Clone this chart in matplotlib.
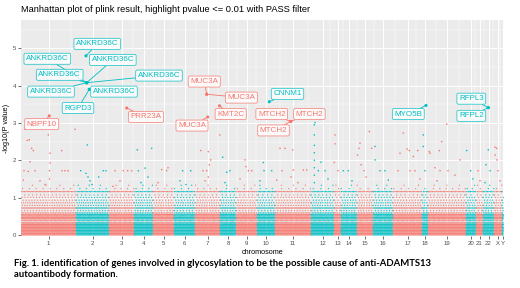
"""Manhattan plot of plink result with labelled hits (ggplot-like look)."""
import matplotlib; matplotlib.use("Agg")
import matplotlib.pyplot as plt
import numpy as np

plt.rcParams['font.family'] = ['Liberation Sans', 'DejaVu Sans']

RED, CYAN = "#F8766D", "#00BFC4"

# ---- data ----
chroms = [str(i) for i in range(1, 23)] + ["X", "Y"]
# width of each chromosome on the x axis (variant index, arbitrary units)
chr_size = [55, 33, 25, 19, 21, 21, 25, 16, 21, 18, 36, 23, 7, 16, 16, 20, 29, 6, 38, 10, 7, 11, 8, 1.5]

# dense background: observed -log10(P) levels and how many variants per x unit sit there
band_logp = [0.00, 0.04, 0.08, 0.12, 0.16, 0.20, 0.24, 0.28, 0.32, 0.38, 0.43, 0.47, 0.51,
             0.55, 0.59, 0.65, 0.72, 0.79, 0.86, 0.93, 1.00, 1.07, 1.16, 1.24, 1.33]
band_density = [1.2, 1.3, 1.4, 1.3, 1.4, 1.3, 1.4, 1.3, 1.2, 0.8, 1.2, 1.2, 1.1,
                1.0, 0.6, 0.35, 1.0, 0.4, 0.45, 0.35, 0.35, 0.25, 0.75, 0.15, 0.08]

# sparse variants above the band: chromosome, position within chromosome, -log10(P)
sp_chr = (["1"] * 22 + ["2"] * 9 + ["3"] * 6 + ["4"] * 6 + ["5"] * 4 + ["6"] * 4 + ["7"] * 9
          + ["8"] * 4 + ["9"] * 5 + ["10"] * 4 + ["11"] * 10 + ["12"] * 13 + ["13"] * 4
          + ["14"] * 3 + ["15"] * 8 + ["16"] * 5 + ["17"] * 10 + ["18"] * 3 + ["19"] * 11
          + ["20"] * 3 + ["21"] * 2 + ["22"] * 4 + ["X"] * 6)
sp_pos = [4, 6.3, 8.3, 10.7, 12.3, 9, 7.3, 2.3, 27.3, 29, 29, 28.5, 28.5, 40.7, 54, 41, 44, 47, 19, 24, 14, 3,
          11.3, 10, 12, 14, 4.7, 27.3, 30, 22.7, 16,
          6, 14.3, 18.7, 22.7, 11, 4,
          3.3, 17.7, 11, 4.3, 14, 7,
          8.7, 13.7, 15, 5,
          8.7, 16.7, 6, 12,
          5.7, 13.3, 15.7, 14.3, 11.7, 13.3, 10, 24.8, 8,
          2.7, 6.7, 10, 5,
          9, 10, 12.3, 4, 15.7,
          6.3, 7, 14.7, 3,
          5, 10, 17.7, 18.3, 28.3, 31.7, 7, 1.7, 16, 23,
          3.3, 3.3, 3.3, 3.3, 3.3, 3.3, 3.3, 3.3, 4, 7.3, 14, 10, 17,
          1, 1, 0.3, 4,
          2.3, 7.3, 11,
          0.5, 2, 3, 12.3, 14.7, 4, 7, 9,
          2, 2, 7, 15.3, 12,
          10.3, 7, 20.3, 14, 5, 16.3, 24.7, 17, 22, 27,
          1.3, 1.3, 3,
          2, 13.7, 18.7, 32, 1.3, 11.3, 7, 12, 20, 27, 9,
          4.7, 0.7, 7,
          2, 4,
          3, 5.3, 7, 2,
          1, 2.7, 3, 4, 6, 1]
sp_logp = [2.83, 2.53, 2.55, 2.32, 2.26, 1.96, 1.70, 1.47, 2.68, 2.19, 1.93, 1.72, 1.50, 2.26, 2.83, 1.72, 1.72, 1.72, 1.45, 1.35, 1.72, 1.72,
           2.41, 1.65, 1.55, 1.45, 1.72, 1.72, 1.72, 1.55, 1.35,
           1.72, 1.72, 1.72, 1.72, 1.45, 1.30,
           2.28, 2.32, 1.79, 1.72, 1.55, 1.40,
           1.75, 1.72, 1.80, 1.40,
           1.72, 1.72, 1.45, 1.35,
           2.26, 2.23, 2.01, 1.88, 1.72, 1.55, 1.45, 2.68, 1.72,
           2.08, 1.68, 1.72, 1.40,
           2.01, 1.83, 1.72, 1.50, 1.72,
           1.94, 1.72, 1.72, 1.45,
           2.32, 2.32, 2.28, 1.74, 1.74, 1.74, 1.72, 1.47, 1.55, 1.40,
           2.95, 2.68, 2.40, 2.20, 2.00, 1.80, 1.60, 1.40, 3.01, 1.72, 1.72, 1.95, 1.50,
           2.68, 2.44, 1.94, 1.72,
           1.72, 1.72, 1.45,
           2.14, 2.32, 2.46, 2.77, 2.32, 1.88, 1.72, 1.55,
           2.37, 2.01, 1.72, 1.47, 1.72,
           2.73, 2.19, 2.10, 2.30, 1.72, 2.26, 2.26, 1.72, 1.72, 1.50,
           2.68, 2.37, 1.72,
           2.19, 2.50, 2.97, 2.01, 2.23, 2.26, 1.80, 1.72, 1.72, 1.60, 1.45,
           1.72, 2.26, 1.50,
           1.72, 1.45,
           1.88, 2.28, 1.72, 1.40,
           2.14, 2.32, 2.01, 1.72, 1.45, 2.35]

# labelled hits (p <= 0.01, PASS)
hit_gene = ["NBPF10", "ANKRD36C", "ANKRD36C", "ANKRD36C", "ANKRD36C", "ANKRD36C", "ANKRD36C",
            "ANKRD36C", "RGPD3", "PRR23A", "MUC3A", "MUC3A", "KMT2C", "MUC3A", "CNNM1",
            "MTCH2", "MTCH2", "MTCH2", "MYO5B", "RFPL3", "RFPL2"]
hit_chr = ["1", "2", "2", "2", "2", "2", "2", "2", "2", "3", "7", "7", "7", "7", "10",
           "11", "11", "11", "18", "22", "22"]
hit_pos = [28.3, 10.0, 10.7, 10.7, 10.7, 10.7, 10.7, 13.3, 13.3, 17.7, 11.7, 11.7, 24.5, 12.7, 12.3,
           15.7, 15.7, 15.7, 4.0, 5.3, 5.3]
hit_logp = [3.19, 4.80, 4.08, 4.08, 4.08, 4.08, 4.08, 3.90, 3.90, 3.40, 3.77, 3.77, 3.46, 3.16, 3.57,
            3.04, 3.04, 3.04, 3.47, 3.41, 3.41]
# where the repelled label boxes ended up (x axis units, -log10 P)
label_xy = [(20.7, 2.97), (76.3, 5.12), (26.3, 4.72), (91.8, 4.69), (38.7, 4.29), (138, 4.27),
            (30, 3.84), (93, 3.84), (57, 3.40), (125, 3.16), (183.3, 4.11), (220.5, 3.68),
            (209.7, 3.24), (171, 2.93), (266.5, 3.78), (250.7, 3.24), (288.3, 3.24),
            (252.5, 2.80), (387.3, 3.24), (450.3, 3.65), (450.3, 3.19)]

# ---- layout ----
starts = np.concatenate([[0], np.cumsum(chr_size)[:-1]])
centers = starts + np.array(chr_size) / 2
start_of = dict(zip(chroms, starts))
col_of = {c: (RED if i % 2 == 0 else CYAN) for i, c in enumerate(chroms)}

fig = plt.figure(figsize=(5.2, 2.88), dpi=100)
ax = fig.add_axes([21 / 520, 1 - 236 / 288, 482.5 / 520, 216 / 288])
ax.set_facecolor("#EBEBEB")

# background band: one row of variants per observed level, spread along each chromosome
bx, by, bc = [], [], []
for ci, c in enumerate(chroms):
    for k, (lv, d) in enumerate(zip(band_logp, band_density)):
        n = max(int(round(chr_size[ci] * d)), 0)
        if n == 0:
            continue
        off = (k * 0.618 + ci * 0.37) % 1
        xs = starts[ci] + (np.arange(n) + off) / n * chr_size[ci]
        bx.extend(xs); by.extend([lv] * n); bc.extend([col_of[c]] * n)
ax.scatter(bx, by, s=0.9, c=bc, linewidths=0, alpha=0.9, zorder=2)

sx = [start_of[c] + p for c, p in zip(sp_chr, sp_pos)]
ax.scatter(sx, sp_logp, s=1.3, c=[col_of[c] for c in sp_chr], linewidths=0, zorder=3)

hx = [start_of[c] + p for c, p in zip(hit_chr, hit_pos)]
ax.scatter(hx, hit_logp, s=5, c=[col_of[c] for c in hit_chr], linewidths=0, zorder=4)

for g, c, x, y, (lx, ly) in zip(hit_gene, hit_chr, hx, hit_logp, label_xy):
    col = col_of[c]
    ax.annotate(g, xy=(x, y), xytext=(lx, ly), textcoords="data", ha="center", va="center",
                fontsize=5.8, color=col, zorder=5,
                bbox=dict(boxstyle="round,pad=0.25,rounding_size=0.2", fc="white",
                          ec=col, lw=0.6, alpha=0.8),
                arrowprops=dict(arrowstyle="-", color=col, lw=0.6, shrinkA=0, shrinkB=1))

ax.set_xlim(0, sum(chr_size))
ax.set_ylim(-0.03, 5.76)
ax.set_xticks(centers)
ax.set_xticklabels(chroms)
ax.set_xticks((centers[:-1] + centers[1:]) / 2, minor=True)
ax.set_yticks([0, 1, 2, 3, 4, 5])
ax.set_yticks([0.5, 1.5, 2.5, 3.5, 4.5, 5.5], minor=True)
ax.grid(True, which="major", color="white", lw=0.7, zorder=0)
ax.grid(True, which="minor", color="white", lw=0.35, zorder=0)
ax.set_axisbelow(True)
for s in ax.spines.values():
    s.set_visible(False)
ax.tick_params(which="major", length=2, width=0.5, color="#333333", labelsize=4.3,
               labelcolor="#4D4D4D", pad=1.5)
ax.tick_params(which="minor", length=0)
ax.set_xlabel("chromosome", fontsize=5.2, labelpad=2)
ax.set_ylabel("-log10(P value)", fontsize=5.2, labelpad=2)

fig.text(21 / 520, 1 - 10 / 288, "Manhattan plot of plink result, highlight pvalue <= 0.01 with PASS filter",
         fontsize=6.7, ha="left", va="center")
cap = ("Fig. 1. identification of genes involved in glycosylation to be the possible cause of anti-ADAMTS13\n"
       "autoantibody formation.")
fig.text(14 / 520, 1 - 259 / 288, cap, fontsize=6.8, fontweight="bold", family=["Lato", "DejaVu Sans"],
         ha="left", va="top", linespacing=1.25)

fig.savefig("out.png", dpi=100)
